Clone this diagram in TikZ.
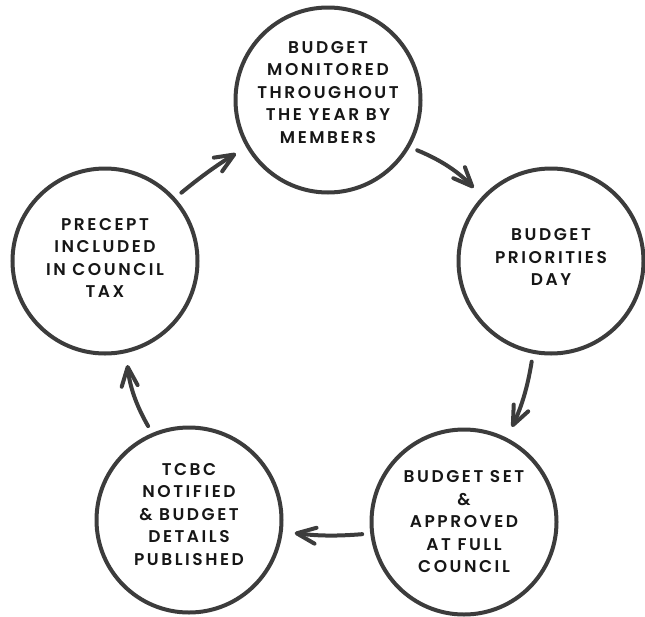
\documentclass[tikz,border=0pt]{standalone}
\usepackage{fontspec}
\newfontfamily\cyclefont[LetterSpace=15, UprightFont=* SemiBold, BoldFont=* Bold]{Poppins}
\usetikzlibrary{arrows.meta}
\definecolor{inkgray}{HTML}{3C3C3C}
\definecolor{textblack}{HTML}{161616}

\begin{document}
\begin{tikzpicture}[
    x=1pt, y=-1pt,
    stage/.style={circle, draw=inkgray, line width=4pt, minimum size=185pt, inner sep=0pt, align=center, text=textblack, font=\cyclefont\fontsize{17}{22.5}\selectfont},
    flow/.style={draw=inkgray, line width=4pt, line cap=round, -{Straight Barb[length=19pt,width=16pt,round]}, shorten <=8pt, shorten >=12pt}
]
\useasboundingbox (0,0) rectangle (645,616);

% Stages of the budget cycle
\node[stage, text depth=16pt] (monitor) at (328,100) {BUDGET\\MONITORED\\THROUGHOUT\\THE YEAR BY\\MEMBERS};
\node[stage, text depth=8pt] (priorities) at (551,261) {BUDGET\\PRIORITIES\\DAY};
\node[stage] (approved) at (464,522) {BUDGET SET\\\&\\APPROVED\\AT FULL\\COUNCIL};
\node[stage, text depth=12pt] (published) at (189,520) {TCBC\\NOTIFIED\\\& BUDGET\\DETAILS\\PUBLISHED};
\node[stage, text depth=6pt] (precept) at (105,261) {PRECEPT\\INCLUDED\\IN COUNCIL\\TAX};

% Arrows round the cycle
\draw[flow] (monitor.-30) to[bend left=12] (priorities.137);
\draw[flow] (priorities.-101) to[bend left=8] (approved.63);
\draw[flow] (approved.187) to[bend left=6] (published.-7);
\draw[flow] (published.113) to[bend left=12] (precept.-77);
\draw[flow] (precept.42) to[bend left=4] (monitor.210);

\end{tikzpicture}
\end{document}
